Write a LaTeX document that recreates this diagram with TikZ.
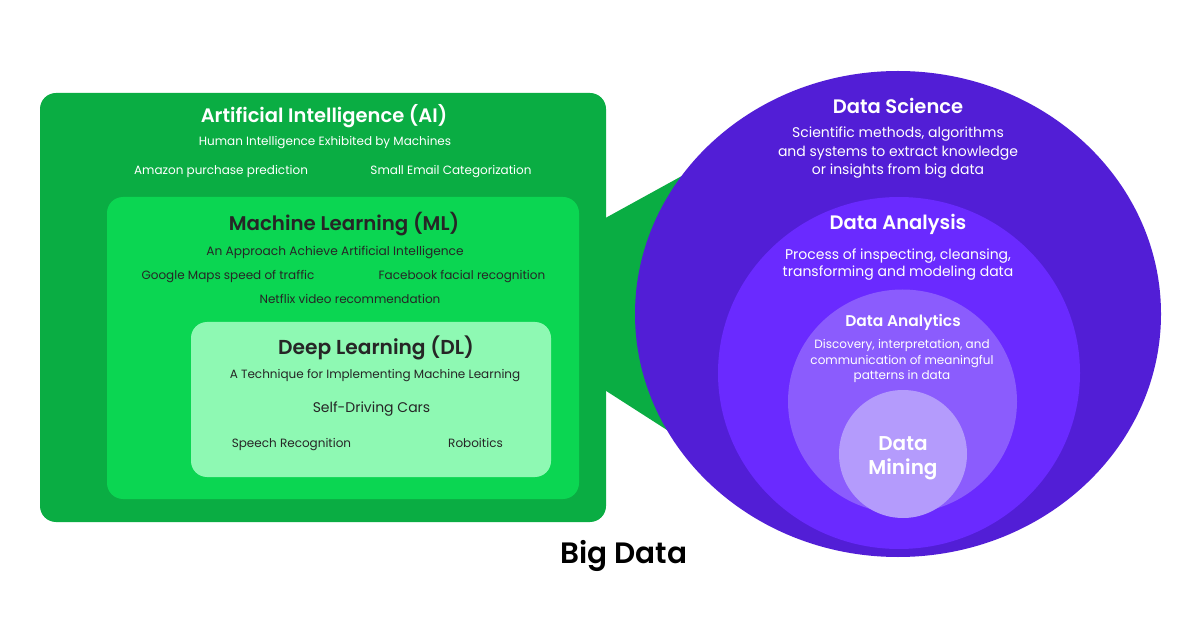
\documentclass[tikz,border=0pt]{standalone}
\usepackage{fontspec}
\setmainfont{Poppins}[BoldFont={Poppins SemiBold}]
\usetikzlibrary{shapes.geometric}
\definecolor{aiG}{RGB}{10,173,67}
\definecolor{mlG}{RGB}{11,214,82}
\definecolor{dlG}{RGB}{142,249,179}
\definecolor{dsP}{RGB}{82,30,214}
\definecolor{daP}{RGB}{106,42,255}
\definecolor{anP}{RGB}{139,92,253}
\definecolor{dmP}{RGB}{180,155,252}
\definecolor{ink}{RGB}{38,38,38}
\begin{document}
\begin{tikzpicture}[x=1pt,y=-1pt,
  box/.style={rectangle,rounded corners=16pt,inner sep=0pt,draw=none},
  blob/.style={ellipse,inner sep=0pt,draw=none},
  lbl/.style={inner sep=0pt,anchor=base,align=center},
  wt/.style={lbl,text=white},
  dk/.style={lbl,text=ink},
  f/.style={font=\fontsize{#1}{#1}\selectfont},
  fb/.style={font=\fontsize{#1}{#1}\selectfont\bfseries}]
\useasboundingbox (0,0) rectangle (1200,628);
\fill[white] (0,0) rectangle (1200,628);
% connector band
\coordinate (c1) at (600,221);
\coordinate (c2) at (720,155);
\coordinate (c3) at (720,464);
\coordinate (c4) at (600,387);
\fill[aiG] (c1) -- (c2) -- (c3) -- (c4) -- cycle;
% left boxes
\node[box,fill=aiG,minimum width=566,minimum height=429] (ai) at (323,307.5) {};
\node[box,fill=mlG,minimum width=472,minimum height=302] (ml) at (343,348) {};
\node[box,fill=dlG,minimum width=360,minimum height=155] (dl) at (371,399.5) {};
% right ellipses
\node[blob,fill=dsP,minimum width=526,minimum height=486] (ds) at (898,314) {};
\node[blob,fill=daP,minimum width=362,minimum height=352] (da) at (899,373) {};
\node[blob,fill=anP,minimum width=229,minimum height=224] (an) at (902.5,401.5) {};
\node[blob,fill=dmP,minimum width=128,minimum height=128] (dm) at (903,454) {};
% AI texts
\node[wt,fb=19.5] (aiT) at (324,123) {Artificial Intelligence (AI)};
\node[wt,f=12] (aiS) at (325,146) {Human Intelligence Exhibited by Machines};
\node[wt,f=12] (aiA) at (221,175) {Amazon purchase prediction};
\node[wt,f=12] (aiB) at (451,175) {Small Email Categorization};
% ML texts
\node[dk,fb=19.8] (mlT) at (344,231) {Machine Learning (ML)};
\node[dk,f=12.2] (mlS) at (335,255.5) {An Approach Achieve Artificial Intelligence};
\node[dk,f=12] (mlA) at (228,279.5) {Google Maps speed of traffic};
\node[dk,f=12] (mlB) at (462,279.5) {Facebook facial recognition};
\node[dk,f=12] (mlC) at (350,303.5) {Netflix video recommendation};
% DL texts
\node[dk,fb=20.2] (dlT) at (376,354.5) {Deep Learning (DL)};
\node[dk,f=12] (dlS) at (375,379) {A Technique for Implementing Machine Learning};
\node[dk,f=14] (dlA) at (371.5,412) {Self-Driving Cars};
\node[dk,f=12] (dlB) at (291.5,447) {Speech Recognition};
\node[dk,f=12] (dlC) at (475.5,447) {Roboitics};
% right texts
\node[wt,fb=19.5] (dsT) at (898,113.5) {Data Science};
\node[wt,font=\fontsize{14}{18.5}\selectfont] (dsS) at (898,175) {Scientific methods, algorithms\\and systems to extract knowledge\\or insights from big data};
\node[wt,fb=19.5] (daT) at (898,229.5) {Data Analysis};
\node[wt,font=\fontsize{14}{17}\selectfont] (daS) at (898,277) {Process of inspecting, cleansing,\\transforming and modeling data};
\node[wt,fb=15.5] (anT) at (903,327) {Data Analytics};
\node[wt,font=\fontsize{12}{15.5}\selectfont] (anS) at (902,380) {Discovery, interpretation, and\\communication of meaningful\\patterns in data};
\node[wt,font=\fontsize{20}{24}\selectfont\bfseries] (dmT) at (903,474) {Data\\Mining};
\node[lbl,text=black,fb=29.5] (bd) at (624,563) {Big Data};
\end{tikzpicture}
\end{document}
